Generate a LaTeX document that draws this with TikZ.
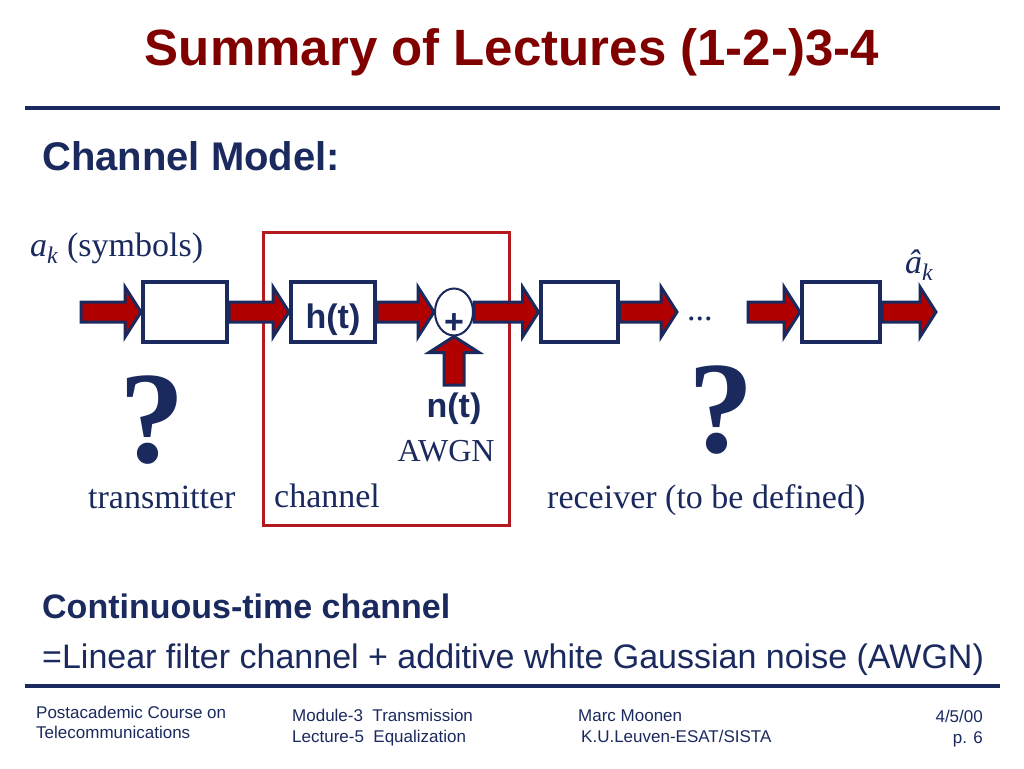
\documentclass[tikz,border=0pt]{standalone}
\usepackage{fontspec}
\setmainfont{Liberation Serif}
\setsansfont{Liberation Sans}
\usetikzlibrary{calc,shapes.geometric}

\definecolor{slideNavy}{HTML}{1B2A5E}
\definecolor{slideMaroon}{HTML}{800000}
\definecolor{arrowRed}{HTML}{B00000}
\definecolor{chanRed}{HTML}{B3191F}

% block arrow from #1 to #2
\newcommand{\shaftw}{10pt}
\newcommand{\headw}{25pt}
\newcommand{\headlen}{16pt}
\newcommand{\fatarrow}[2]{%
  \coordinate (fa-s) at (#1);
  \coordinate (fa-e) at (#2);
  \coordinate (fa-h) at ($(fa-e)!\headlen!(fa-s)$);
  \draw[fatarrow] ($(fa-s)!\shaftw!90:(fa-e)$) -- ($(fa-h)!\shaftw!90:(fa-e)$)
    -- ($(fa-h)!\headw!90:(fa-e)$) -- (fa-e) -- ($(fa-h)!\headw!-90:(fa-e)$)
    -- ($(fa-h)!\shaftw!-90:(fa-e)$) -- ($(fa-s)!\shaftw!-90:(fa-e)$) -- cycle;
}

\begin{document}
\begin{tikzpicture}[x=1pt,y=-1pt,
  blk/.style={draw=slideNavy,line width=4pt,fill=white,inner sep=0pt,
              minimum width=84pt,minimum height=60pt},
  fatarrow/.style={draw=slideNavy,line width=3pt,fill=arrowRed,line join=miter},
  rule/.style={draw=slideNavy,line width=4pt},
  txt/.style={inner sep=0pt,anchor=base west,text=slideNavy},
  serif/.style={txt,font=\rmfamily\fontsize{34}{40}\selectfont},
  bsans/.style={txt,font=\sffamily\bfseries\fontsize{34}{40}\selectfont},
  foot/.style={txt,font=\sffamily\fontsize{17}{20}\selectfont},
  quest/.style={inner sep=0pt,anchor=base,text=slideNavy,text depth=0pt,
                font=\rmfamily\bfseries\fontsize{131}{150}\selectfont},
]
\useasboundingbox[fill=white] (0,0) rectangle (1024,768);

% title and rules
\node[inner sep=0pt,anchor=base,text=slideMaroon,
      font=\sffamily\bfseries\fontsize{51}{60}\selectfont] (title) at (512,66)
      {Summary of Lectures (1-2-)3-4};
\draw[rule] (25,108) -- (1000,108);
\node[bsans,font=\sffamily\bfseries\fontsize{40}{48}\selectfont] (model) at (42,170) {Channel Model:};

% channel frame
\draw[chanRed,line width=3pt] (263,232) rectangle (509,525);

% blocks
\node[blk] (tx) at (185,312) {};
\node[blk,text=slideNavy,text height=32pt,text depth=0pt,
      font=\sffamily\bfseries\fontsize{34}{40}\selectfont] (ht) at (333,312) {h(t)};
\node[ellipse,draw=slideNavy,line width=2pt,fill=white,inner sep=0pt,
      minimum width=38pt,minimum height=47pt] (sum) at (454,312) {};
\node[inner sep=0pt,anchor=base,text=slideNavy,
      font=\sffamily\bfseries\fontsize{34}{40}\selectfont] (plus) at (454,333) {+};
\node[blk,minimum width=77pt] (rx1) at (579,312) {};
\node[blk,minimum width=78pt] (rx2) at (841,312) {};

\coordinate (in) at (81,312);
\coordinate (out1) at (677,312);
\coordinate (in2) at (748,312);
\coordinate (out) at (936,312);
\coordinate (noise) at (454,385);

% arrows
\fatarrow{in}{tx.west}
\fatarrow{tx.east}{ht.west}
\fatarrow{ht.east}{sum.west}
\fatarrow{sum.east}{rx1.west}
\fatarrow{rx1.east}{out1}
\fatarrow{in2}{rx2.west}
\fatarrow{rx2.east}{out}
\fatarrow{noise}{sum.south}

% labels
\node[serif] (sym) at (30,256) {\textit{a}\textsubscript{\textit{k}} (symbols)};
\node[serif] (est) at (905,273) {\textit{â}\textsubscript{\textit{k}}};
\node[serif] (dots) at (687,320) {...};
\node[quest] (q1) at (152,462) {?};
\node[quest] (q2) at (721,452) {?};
\node[bsans,anchor=base] (nt) at (454,417) {n(t)};
\node[serif,anchor=base,font=\rmfamily\fontsize{32}{38}\selectfont] (awgn) at (446,461) {AWGN};
\node[serif] (txl) at (88,508) {transmitter};
\node[serif] (chl) at (274,507) {channel};
\node[serif] (rxl) at (547,508) {receiver (to be defined)};

% bottom text
\node[bsans] (ct) at (42,618) {Continuous-time channel};
\node[txt,font=\sffamily\fontsize{34}{40}\selectfont] (lin) at (42,668)
  {=Linear filter channel + additive white Gaussian noise (AWGN)};
\draw[rule] (25,686) -- (1000,686);

% footer
\node[foot] (f1a) at (36,718) {Postacademic Course on};
\node[foot] (f1b) at (36,738) {Telecommunications};
\node[foot] (f2a) at (292,721) {Module-3~~Transmission};
\node[foot] (f2b) at (292,742) {Lecture-5~~Equalization};
\node[foot] (f3a) at (578,721) {Marc Moonen};
\node[foot] (f3b) at (581,742) {K.U.Leuven-ESAT/SISTA};
\node[foot,anchor=base east] (f4a) at (983,722) {4/5/00};
\node[foot,anchor=base east] (f4b) at (983,743) {p. 6};
\end{tikzpicture}
\end{document}
